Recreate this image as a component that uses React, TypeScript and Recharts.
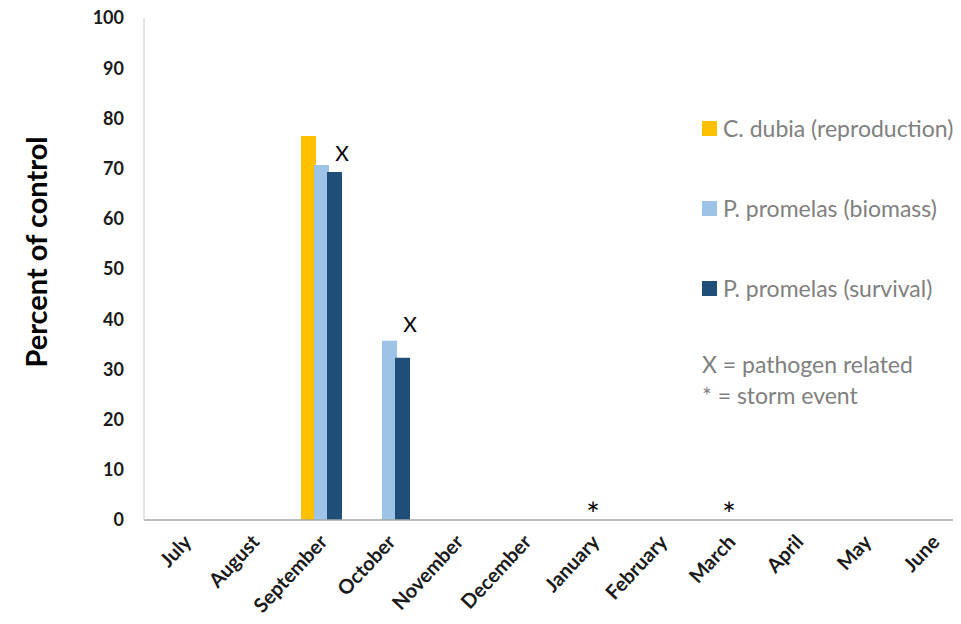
import React from 'react';
import {
  ComposedChart,
  Bar,
  Scatter,
  XAxis,
  YAxis,
  Legend,
} from 'recharts';

const months = [
  'July', 'August', 'September', 'October', 'November', 'December',
  'January', 'February', 'March', 'April', 'May', 'June',
];
const dubiaRepro = [null, null, 76.5, null, null, null, null, null, null, null, null, null];
const promelasBiomass = [null, null, 70.7, 35.7, null, null, null, null, null, null, null, null];
const promelasSurvival = [null, null, 69.3, 32.3, null, null, null, null, null, null, null, null];
// marker heights for the "X" (pathogen) and "*" (storm) notes
const pathogenMark = [null, null, 73.3, 39.2, null, null, null, null, null, null, null, null];
const stormMark = [null, null, null, null, null, null, 3, null, 3, null, null, null];
const yTicks = [0, 10, 20, 30, 40, 50, 60, 70, 80, 90, 100];

const data = months.map((m, i) => ({
  month: m,
  dubia: dubiaRepro[i],
  biomass: promelasBiomass[i],
  survival: promelasSurvival[i],
  pathogen: pathogenMark[i],
  storm: stormMark[i],
}));

const FONT = 'Lato, "Open Sans", sans-serif';
const YELLOW = '#FFC000';
const LIGHT = '#9DC3E6';
const DARK = '#1F4E79';
const LEGEND_TEXT = '#808080';

const MonthTick = (props: any) => {
  const { x, y, payload } = props;
  return (
    <g transform={`translate(${x - 4},${y + 4}) rotate(-47)`}>
      <text
        x={0}
        y={0}
        textAnchor="end"
        dominantBaseline="hanging"
        fontFamily={FONT}
        fontWeight={700}
        fontSize={20}
        fill="#1a1a1a"
      >
        {payload.value}
      </text>
    </g>
  );
};

const YLabel = () => (
  <text
    transform="translate(35,252) rotate(-90)"
    textAnchor="middle"
    dominantBaseline="central"
    fontFamily={FONT}
    fontWeight={700}
    fontSize={29}
    fill="#000"
  >
    Percent of control
  </text>
);

const LegendBox = (props: any) => {
  const items = (props.payload || []).filter((p: any) => p.type === 'square');
  const row: React.CSSProperties = {
    display: 'flex',
    alignItems: 'center',
    height: 26,
    marginBottom: 54,
  };
  return (
    <div style={{ fontFamily: FONT, fontSize: 23, color: LEGEND_TEXT }}>
      {items.map((p: any) => (
        <div key={p.value} style={row}>
          <span
            style={{
              display: 'inline-block',
              width: 15,
              height: 15,
              background: p.color,
              marginRight: 6,
            }}
          />
          {p.value}
        </div>
      ))}
      <div style={{ marginTop: -6, lineHeight: '31px' }}>
        <div>X = pathogen related</div>
        <div>* = storm event</div>
      </div>
    </div>
  );
};

const PathogenShape = (props: any) => {
  if (props.payload.pathogen == null) return <g />;
  return (
    <text
      x={props.cx + 21}
      y={props.cy}
      textAnchor="middle"
      dominantBaseline="central"
      fontFamily={FONT}
      fontSize={21}
      fill="#000"
    >
      X
    </text>
  );
};

const StormShape = (props: any) => {
  if (props.payload.storm == null) return <g />;
  return (
    <text
      x={props.cx}
      y={props.cy + 9}
      textAnchor="middle"
      dominantBaseline="central"
      fontFamily={FONT}
      fontSize={32}
      fill="#000"
    >
      *
    </text>
  );
};

export default function App() {
  return (
    <div style={{ margin: -8, width: 961, height: 624, overflow: 'hidden', background: '#fff' }}>
      <ComposedChart
        width={967}
        height={624}
        data={data}
        margin={{ top: 18, right: 0, left: 0, bottom: 0 }}
        barSize={15}
        barGap={-2}
      >
        <XAxis
          dataKey="month"
          height={104}
          padding={{ left: 7, right: 0 }}
          axisLine={{ stroke: '#a6a6a6', strokeWidth: 1.5 }}
          tickLine={false}
          interval={0}
          tick={<MonthTick />}
        />
        <YAxis
          width={144}
          domain={[0, 100]}
          ticks={yTicks}
          interval={0}
          axisLine={{ stroke: '#c8c8c8' }}
          tickLine={false}
          tickMargin={14}
          tick={{ fontFamily: FONT, fontWeight: 700, fontSize: 18, fill: '#1a1a1a' }}
          label={<YLabel />}
        />
        <Legend
          layout="vertical"
          align="center"
          verticalAlign="middle"
          wrapperStyle={{ left: 702, top: 115, width: 265, height: 300 }}
          content={<LegendBox />}
        />
        <Bar dataKey="dubia" name="C. dubia (reproduction)" fill={YELLOW} isAnimationActive={false} legendType="square" />
        <Bar dataKey="biomass" name="P. promelas (biomass)" fill={LIGHT} isAnimationActive={false} legendType="square" />
        <Bar dataKey="survival" name="P. promelas (survival)" fill={DARK} isAnimationActive={false} legendType="square" />
        <Scatter dataKey="pathogen" shape={<PathogenShape />} isAnimationActive={false} legendType="none" />
        <Scatter dataKey="storm" shape={<StormShape />} isAnimationActive={false} legendType="none" />
      </ComposedChart>
    </div>
  );
}
